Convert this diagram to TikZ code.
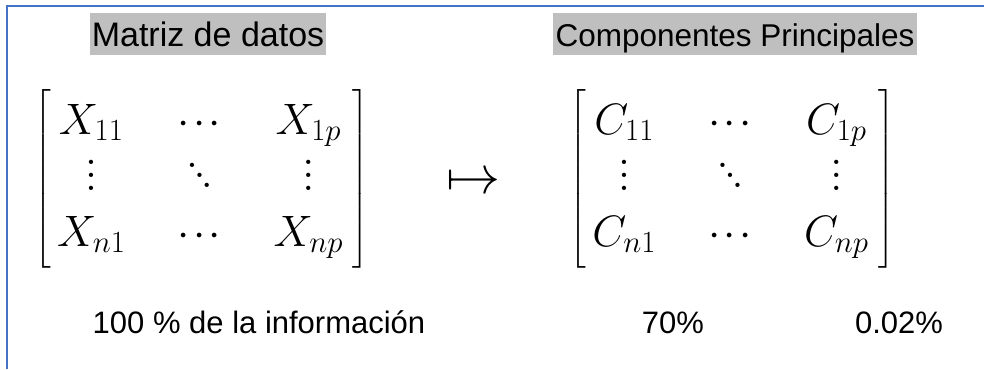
\RequirePackage{fix-cm}
\documentclass[tikz,border=0pt]{standalone}
\usepackage{amsmath}
\usepackage[no-math]{fontspec}
\setmainfont{Liberation Sans}
\definecolor{frameblue}{HTML}{4472C4}
\definecolor{hlgray}{HTML}{BFBFBF}
\newcommand\myvdots{\vbox{\baselineskip=0.29em \lineskiplimit=-20pt \hbox{$.$}\hbox{$.$}\hbox{$.$}}}
\newcommand\mydot[1]{\raise#1\hbox to 0.17em{\hss$.$\hss}}
\newcommand\myddots{\mathinner{\mydot{0.52em}\mydot{0.3em}\mydot{0.07em}}}
\newcommand\cdotbox{\hbox to 0.35em{\hss$\cdot$\hss}}
\newcommand\mycdots{\mathinner{\cdotbox\cdotbox\cdotbox}}
\newcommand\bigmat[1]{\delimiterfactor=1000 \delimitershortfall=0pt
  \left[\vcenter{\hbox{\rule{0pt}{176pt}}}\kern6pt
  \begin{matrix}#1\end{matrix}\kern10pt\right]}
\begin{document}
\begin{tikzpicture}[x=1pt,y=-1pt,
  titlebox/.style={fill=hlgray, inner xsep=0pt, inner ysep=0pt, text height=34pt, text depth=8pt},
  matbox/.style={inner sep=0pt, font=\fontsize{44}{56}\selectfont},
  infotext/.style={inner sep=0pt, anchor=base, font=\fontsize{31}{36}\selectfont}]
\useasboundingbox (0,0) rectangle (984,369);
\coordinate (c0) at (6.5,369);
\coordinate (c1) at (6.5,6.5);
\coordinate (c2) at (984,6.5);
\draw[frameblue, line width=2pt] (c0) -- (c1) -- (c2);

\node[titlebox, minimum width=236pt, font=\fontsize{34}{38}\selectfont] (t1) at (208,34) {Matriz de datos};
\node[titlebox, minimum width=364pt, font=\fontsize{31.5}{36}\selectfont] (t2) at (735,34) {Componentes Principales};

\node[matbox] (m1) at (202,179) {\arraycolsep=25.5pt $\bigmat{X_{11} & \mycdots & X_{1p}\\ \myvdots & \myddots & \myvdots \\ X_{n1} & \mycdots & X_{np}}$};
\node[matbox] (m2) at (732.5,179) {\arraycolsep=25.5pt $\bigmat{C_{11} & \mycdots & C_{1p}\\ \myvdots & \myddots & \myvdots \\ C_{n1} & \mycdots & C_{np}}$};

\node[inner sep=0pt, font=\fontsize{54}{60}\selectfont] (arr) at (473,184) {$\mapsto$};

\node[infotext] (i1) at (259,333) {100 \% de la información};
\node[infotext] (i2) at (673,333) {70\%};
\node[infotext] (i3) at (899,333) {0.02\%};
\end{tikzpicture}
\end{document}
